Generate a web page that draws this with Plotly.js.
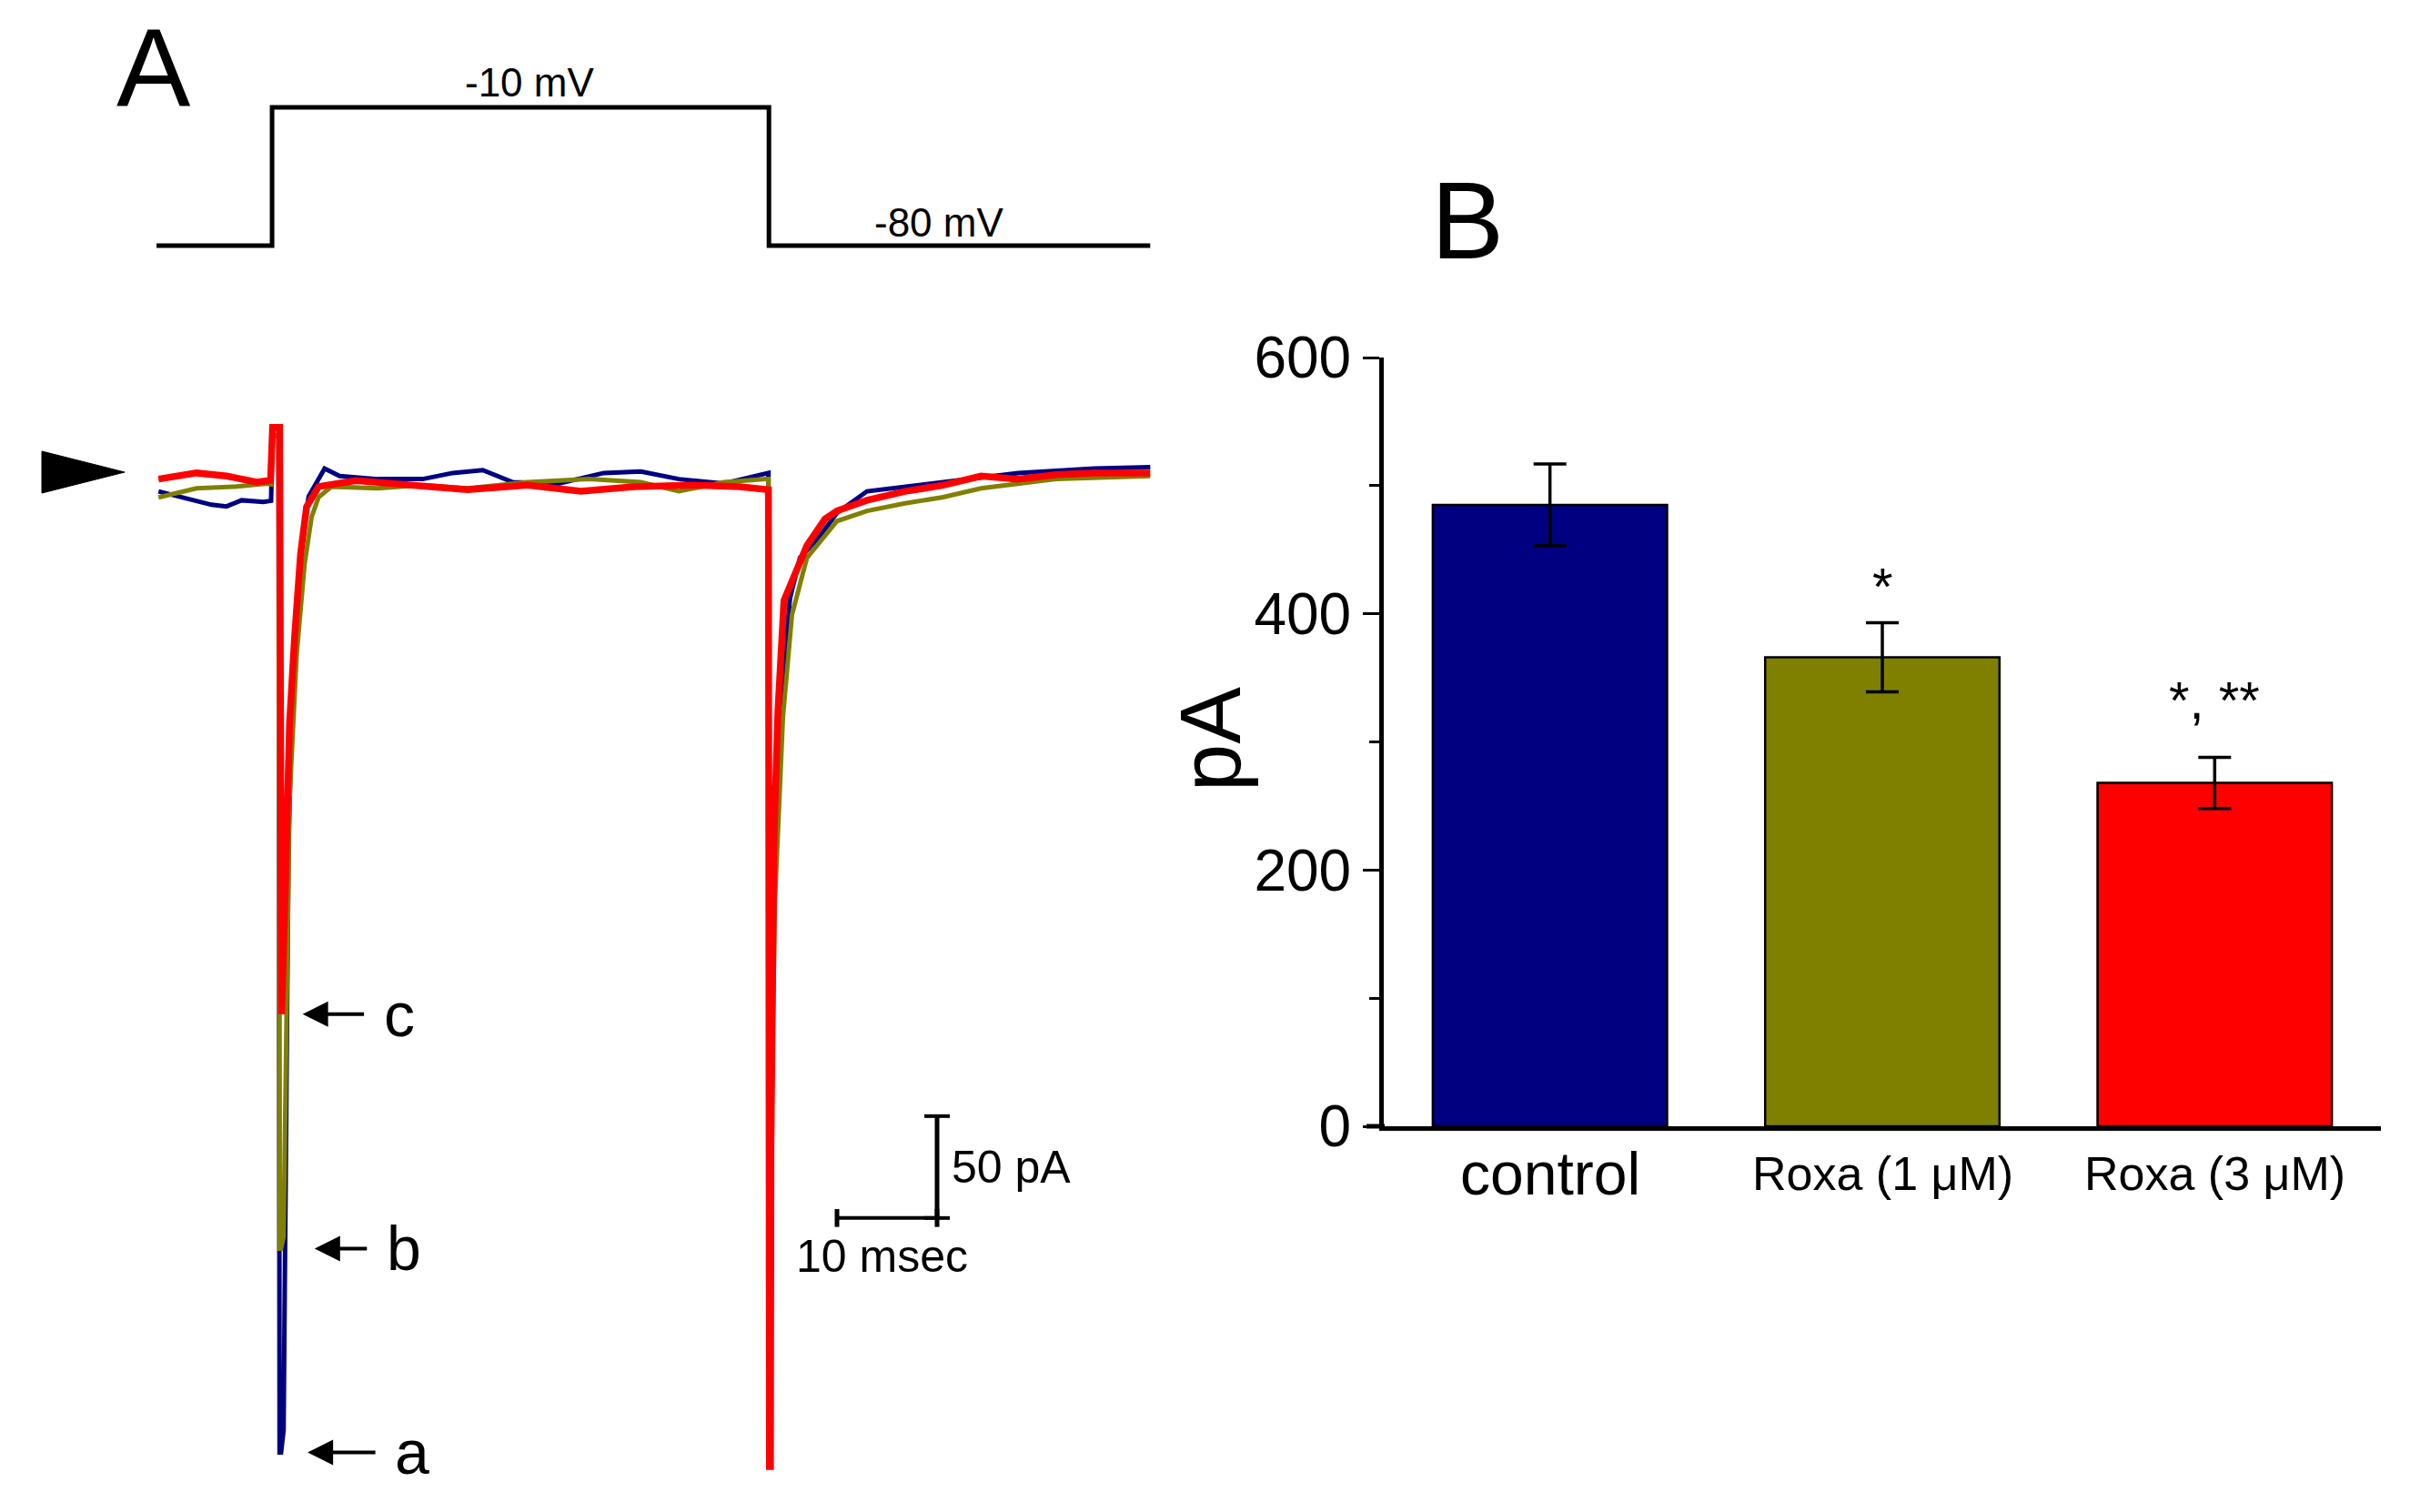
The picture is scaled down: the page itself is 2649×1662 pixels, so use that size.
<!DOCTYPE html>
<html><head><meta charset="utf-8">
<script src="https://cdn.plot.ly/plotly-3.0.1.min.js"></script>
<style>html,body{margin:0;padding:0;background:#fff}#chart{width:2649px;height:1662px}</style>
</head><body><div id="chart"></div>
<script>
// ---------- Panel A: voltage protocol (ms, mV) ----------
const protocolTime = [0, 11.55, 11.55, 61.2, 61.2, 99.3];
const protocolVoltage = [-80, -80, -10, -10, -80, -80];
const protocolLabels = ['-10 mV', '-80 mV'];

// ---------- Panel A: current traces (ms, pA) ----------
const controlTime = [0.2, 2.5, 5.5, 7.0, 8.5, 10.7, 11.45, 11.6, 12.2, 12.3, 12.45, 12.7, 13.2, 13.7, 14.4, 15.2, 16.8, 18.3, 22.1, 26.6, 29.6, 32.6, 35.6, 40.2, 44.7, 48.4, 52.2, 56.7, 60.9, 61.15, 61.25, 61.35, 61.4, 61.7, 62.4, 63.3, 64.3, 66.2, 68.0, 71.0, 78.6, 86.1, 93.7, 99.3];
const controlCurrent = [-9.4, -12.3, -16.0, -16.8, -13.8, -14.6, -14.0, 18, 18, -481, -481, -470, -180, -90, -40, -12, 1.8, -1.9, -3.4, -3.4, -0.4, 1.0, -4.9, -5.6, -0.4, 0.3, -3.4, -5.6, -0.4, -0.4, -480, -480, -330, -200, -110, -62, -42, -32, -20, -9.4, -4.9, -0.4, 1.8, 2.5];

const roxa1Time = [0.2, 4.0, 7.8, 11.1, 11.45, 11.6, 12.2, 12.3, 12.45, 12.7, 13.3, 14.0, 14.8, 15.5, 16.2, 17.5, 22.1, 26.6, 31.1, 37.1, 43.2, 48.4, 52.2, 56.7, 60.9, 61.15, 61.25, 61.35, 61.4, 61.8, 62.6, 63.5, 65.0, 68.0, 71.0, 74.8, 78.6, 82.4, 89.9, 99.3];
const roxa1Current = [-12.4, -7.9, -7.1, -5.6, -6.0, 18, 18, -381, -381, -375, -160, -90, -45, -22, -12.3, -7.1, -7.9, -6.4, -7.9, -4.9, -3.4, -4.9, -9.4, -4.9, -3.4, -3.4, -470, -470, -330, -210, -120, -70, -42, -24, -19, -15.3, -12.3, -7.9, -3.4, -1.9];

const roxa3Time = [0.2, 4.0, 7.0, 10.0, 11.4, 11.6, 12.3, 12.4, 12.5, 12.9, 13.3, 13.8, 14.4, 15.0, 16.2, 19.9, 25.9, 31.1, 37.1, 42.4, 47.7, 53.7, 58.3, 60.9, 61.15, 61.25, 61.35, 61.4, 61.7, 62.1, 62.7, 65.0, 66.8, 68.0, 71.0, 74.8, 78.6, 82.4, 86.1, 89.9, 93.7, 99.3];
const roxa3Current = [-3.4, -0.4, -1.9, -4.9, -4.0, 22, 22, -266, -266, -200, -123, -81, -40, -17, -7.1, -4.1, -6.4, -8.6, -6.4, -9.4, -7.1, -6.4, -7.1, -8.6, -8.6, -488, -488, -330, -180, -117, -63, -36, -23, -19, -13.8, -9.4, -6.4, -1.9, -3.4, -1.2, -0.4, -0.4];

const traceLabels = ['a', 'b', 'c'];
const scaleBarTime = 10;     // msec
const scaleBarCurrent = 50;  // pA

// ---------- Panel B: peak current ----------
const categories = ['control', 'Roxa (1 μM)', 'Roxa (3 μM)'];
const peakCurrent = [485, 366, 268];
const peakSEM = [32, 27, 20];
const significance = ['', '*', '*, **'];
const yTicks = [0, 200, 400, 600];

// ---------- styling ----------
const NAVY = '#000080', OLIVE = '#808000', RED = '#FF0000';
const FONT = 'Liberation Sans, Arial, Helvetica, sans-serif';
const W = 2649, H = 1662;

const traces = [];
traces.push({x: protocolTime, y: protocolVoltage, xaxis: 'x', yaxis: 'y2', mode: 'lines',
  line: {color: '#000', width: 5}, hoverinfo: 'skip', showlegend: false});
traces.push({x: controlTime, y: controlCurrent, xaxis: 'x', yaxis: 'y', mode: 'lines', name: 'control',
  line: {color: NAVY, width: 5}, showlegend: false});
traces.push({x: roxa1Time, y: roxa1Current, xaxis: 'x', yaxis: 'y', mode: 'lines', name: 'Roxa 1',
  line: {color: OLIVE, width: 5}, showlegend: false});
traces.push({x: roxa3Time, y: roxa3Current, xaxis: 'x', yaxis: 'y', mode: 'lines', name: 'Roxa 3',
  line: {color: RED, width: 7.5}, showlegend: false});

// scale bars
const sbT0 = 68.0, sbI0 = -366;
traces.push({x: [sbT0, sbT0 + scaleBarTime], y: [sbI0, sbI0], xaxis: 'x', yaxis: 'y', mode: 'lines+markers',
  line: {color: '#000', width: 4}, marker: {symbol: 'line-ns-open', size: 14, color: '#000', line: {width: 5, color: '#000'}},
  hoverinfo: 'skip', showlegend: false});
traces.push({x: [sbT0 + scaleBarTime, sbT0 + scaleBarTime], y: [sbI0, sbI0 + scaleBarCurrent], xaxis: 'x', yaxis: 'y', mode: 'lines+markers',
  line: {color: '#000', width: 5}, marker: {symbol: 'line-ew-open', size: 20, color: '#000', line: {width: 4, color: '#000'}},
  hoverinfo: 'skip', showlegend: false});

// bar chart
traces.push({type: 'bar', x: categories, y: peakCurrent, xaxis: 'x3', yaxis: 'y3', width: 0.705,
  marker: {color: [NAVY, OLIVE, RED], line: {color: '#000', width: 2.5}},
  error_y: {type: 'data', array: peakSEM, visible: true, color: '#000', thickness: 3.5, width: 18},
  showlegend: false});

const annotations = [];
annotations.push({xref: 'paper', yref: 'paper', x: 169 / W, y: 1 - 75 / H, text: 'A', showarrow: false,
  font: {family: FONT, size: 122, color: '#000'}, xanchor: 'center', yanchor: 'middle'});
annotations.push({xref: 'paper', yref: 'paper', x: 1613 / W, y: 1 - 242 / H, text: 'B', showarrow: false,
  font: {family: FONT, size: 120, color: '#000'}, xanchor: 'center', yanchor: 'middle'});
annotations.push({xref: 'x', yref: 'y2', x: 37.3, y: protocolVoltage[2], text: protocolLabels[0], showarrow: false,
  font: {family: FONT, size: 44, color: '#000'}, yanchor: 'middle', yshift: 28});
annotations.push({xref: 'x', yref: 'y2', x: 78.2, y: protocolVoltage[5], text: protocolLabels[1], showarrow: false,
  font: {family: FONT, size: 44, color: '#000'}, yanchor: 'middle', yshift: 26});
const peaks = [Math.min(...controlCurrent.slice(0, 17)), Math.min(...roxa1Current.slice(0, 15)), Math.min(...roxa3Current.slice(0, 15))];
const arrowTip = [15.1, 15.8, 14.6];
const arrowLen = [76, 59, 69];
for (let i = 0; i < 3; i++) {
  annotations.push({xref: 'x', yref: 'y', x: arrowTip[i], y: peaks[i], ax: arrowLen[i], ay: 0, text: '',
    showarrow: true, arrowhead: 2, arrowsize: 1.4, arrowwidth: 4, arrowcolor: '#000', standoff: 0});
  annotations.push({xref: 'x', yref: 'y', x: arrowTip[i], y: peaks[i], xshift: arrowLen[i] + 18, text: traceLabels[i],
    showarrow: false, xanchor: 'left', yanchor: 'middle', font: {family: FONT, size: 68, color: '#000'}});
}
annotations.push({xref: 'x', yref: 'y', x: sbT0 + scaleBarTime, y: sbI0 + scaleBarCurrent / 2, xshift: 14,
  text: scaleBarCurrent + ' pA', showarrow: false, xanchor: 'left', yanchor: 'middle', font: {family: FONT, size: 50, color: '#000'}});
annotations.push({xref: 'x', yref: 'y', x: sbT0 + scaleBarTime / 2 - 0.5, y: sbI0, yshift: -42,
  text: scaleBarTime + ' msec', showarrow: false, xanchor: 'center', yanchor: 'middle', font: {family: FONT, size: 50, color: '#000'}});
annotations.push({xref: 'paper', yref: 'paper', x: 1330 / W, y: 1 - 812 / H, text: 'pA', textangle: -90, showarrow: false,
  font: {family: FONT, size: 94, color: '#000'}, xanchor: 'center', yanchor: 'middle'});
const starShift = [0, 6, 28];
categories.forEach((c, i) => {
  annotations.push({xref: 'x3', yref: 'paper', x: c, y: 1 - 1290 / H, text: c, showarrow: false,
    xanchor: 'center', yanchor: 'middle', font: {family: FONT, size: i === 0 ? 66 : 52, color: '#000'}});
  if (significance[i]) {
    annotations.push({xref: 'x3', yref: 'y3', x: c, y: peakCurrent[i] + peakSEM[i], text: significance[i], showarrow: false,
      xanchor: 'center', yanchor: 'bottom', yshift: starShift[i], font: {family: FONT, size: 58, color: '#000'}});
  }
});

const shapes = [
  {type: 'path', xref: 'paper', yref: 'paper',
   path: `M ${46 / W} ${1 - 496 / H} L ${46 / W} ${1 - 542 / H} L ${137 / W} ${1 - 519 / H} Z`,
   fillcolor: '#000', line: {color: '#000', width: 1}},
  {type: 'line', xref: 'paper', yref: 'paper', x0: 1502 / W, x1: 1522 / W, y0: 1 - 1238 / H, y1: 1 - 1238 / H,
   line: {color: '#000', width: 5}}
];

const pxPerMs = 11.0, pxPerPA = 2.24, zeroPx = 519, t0Px = 172;
const xDom = [0 / W, 1320 / W];
const xRange = [(0 - t0Px) / pxPerMs, (1320 - t0Px) / pxPerMs];
const yDomPx = [340, 1662];
const yRange = [-(1662 - zeroPx) / pxPerPA, -(340 - zeroPx) / pxPerPA];
const vPx = {m10: 118, m80: 270};
const pxPerMV = (vPx.m80 - vPx.m10) / 70;
const y2Range = [-80 - (330 - vPx.m80) / pxPerMV, -10 + (vPx.m10 - 0) / pxPerMV];

const layout = {
  width: W, height: H, margin: {l: 0, r: 0, t: 0, b: 0},
  paper_bgcolor: '#fff', plot_bgcolor: 'rgba(0,0,0,0)',
  font: {family: FONT, color: '#000'},
  showlegend: false,
  xaxis: {domain: xDom, range: xRange, visible: false, anchor: 'y'},
  yaxis: {domain: [1 - yDomPx[1] / H, 1 - yDomPx[0] / H], range: yRange, visible: false, anchor: 'x'},
  yaxis2: {domain: [1 - 330 / H, 1], range: y2Range, visible: false, anchor: 'x'},
  xaxis3: {domain: [1521 / W, 2617 / W], range: [-0.5, 2.5], anchor: 'y3', type: 'category',
    showline: true, linecolor: '#000', linewidth: 5, ticks: '', showticklabels: false, showgrid: false, zeroline: false},
  yaxis3: {domain: [1 - 1238 / H, 1 - 393 / H], range: [0, 600], anchor: 'x3',
    showline: true, linecolor: '#000', linewidth: 5, ticks: 'outside', ticklen: 18, tickwidth: 3, tickcolor: '#000',
    tickvals: yTicks, ticktext: yTicks.map(String), tickfont: {family: FONT, size: 64, color: '#000'},
    minor: {ticks: 'outside', ticklen: 11, tickwidth: 3, tickcolor: '#000', dtick: 100, showgrid: false},
    showgrid: false, zeroline: false},
  annotations: annotations,
  shapes: shapes
};

Plotly.newPlot('chart', traces, layout, {displayModeBar: false, staticPlot: true});
</script>
</body></html>
